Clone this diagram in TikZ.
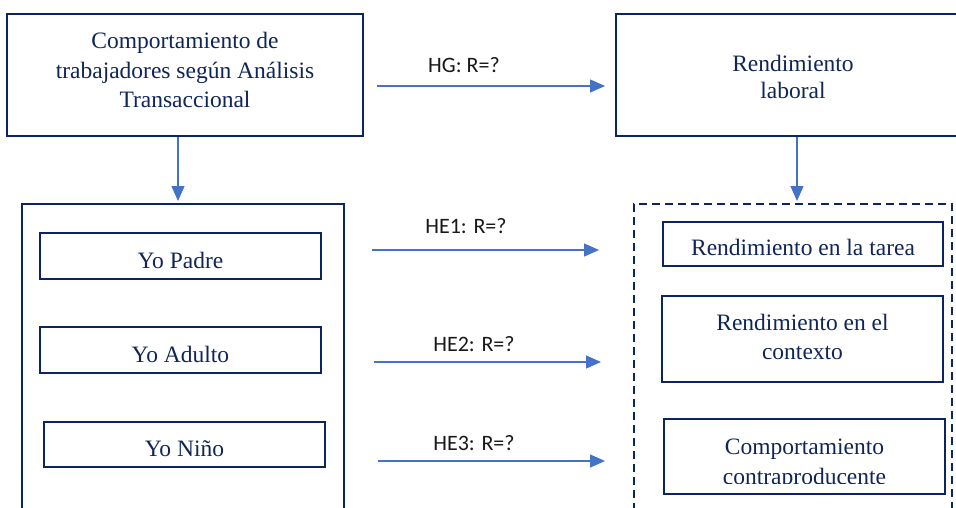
\documentclass[tikz,border=0pt]{standalone}
\usepackage{fontspec}
\setmainfont{Liberation Serif}
\newfontfamily\lblfont{Carlito}
\usetikzlibrary{arrows.meta}
\definecolor{navy}{HTML}{0B2462}
\definecolor{txtnavy}{HTML}{102658}
\definecolor{arrblue}{HTML}{4472C4}
\tikzset{
  box/.style={draw=navy, line width=2.8pt, fill=none, inner sep=0pt},
  outerbox/.style={draw=navy, line width=2pt, inner sep=0pt},
  dashbox/.style={draw=navy, line width=2pt, dash pattern=on 8pt off 5pt, inner sep=0pt},
  txt/.style={inner sep=0pt, align=center, text=txtnavy, font=\fontsize{23.5}{29.5}\selectfont},
  arr/.style={draw=arrblue, line width=1.3pt, -{Triangle[length=15pt,width=13pt]}},
  lbl/.style={inner sep=0pt, font=\lblfont\fontsize{22}{24}\selectfont, text=black!90}
}
\begin{document}
\begin{tikzpicture}[x=1pt,y=-1pt]
\clip (0,0) rectangle (956,507);
\fill[white] (0,0) rectangle (956,507);

% top boxes
\node[box, minimum width=356pt, minimum height=122pt] (A) at (185,75) {};
\node[txt] (At) at (185,70) {Comportamiento de\\trabajadores según Análisis\\Transaccional};
\node[box, minimum width=354pt, minimum height=122pt] (B) at (793,75) {};
\node[txt, font=\fontsize{23.5}{26.5}\selectfont] (Bt) at (793,77) {Rendimiento\\laboral};

% lower containers
\node[outerbox, minimum width=322pt, minimum height=326pt] (L) at (183,367) {};
\node[dashbox, minimum width=318pt, minimum height=326pt] (R) at (793,367) {};

% left inner boxes
\node[box, minimum width=281pt, minimum height=46pt] (P) at (180.5,256) {};
\node[txt] (Pt) at (180.5,260) {Yo Padre};
\node[box, minimum width=281pt, minimum height=46pt] (Ad) at (180.5,350) {};
\node[txt] (Adt) at (180.5,354) {Yo Adulto};
\node[box, minimum width=281pt, minimum height=45pt] (N) at (184.5,444.5) {};
\node[txt] (Nt) at (184.5,448.5) {Yo Niño};

% right inner boxes
\node[box, minimum width=280pt, minimum height=44pt] (T) at (803,244) {};
\node[txt] (Tt) at (803,247) {Rendimiento en la tarea};
\node[box, minimum width=281pt, minimum height=86pt] (C) at (802.5,339) {};
\node[txt] (Ct) at (802.5,337) {Rendimiento en el\\contexto};
\node[box, minimum width=281pt, minimum height=75pt] (CC) at (804.5,456.5) {};
\begin{scope}
  \clip (664,419) rectangle (945,483);
  \node[txt, font=\fontsize{23.5}{30}\selectfont] (CCt) at (804.5,464) {Comportamiento\\contraproducente};
\end{scope}

% vertical arrows
\coordinate (aTip) at (178,201);
\coordinate (bTip) at (797,201);
\draw[arr] (aTip |- A.south) -- (aTip);
\draw[arr] (bTip |- B.south) -- (bTip);

% horizontal arrows
\coordinate (hg1) at (377,86);   \coordinate (hg2) at (605,86);
\coordinate (h11) at (372,250);  \coordinate (h12) at (599,250);
\coordinate (h21) at (374,362);  \coordinate (h22) at (601,362);
\coordinate (h31) at (378,461);  \coordinate (h32) at (605,461);
\draw[arr] (hg1) -- (hg2);
\draw[arr] (h11) -- (h12);
\draw[arr] (h21) -- (h22);
\draw[arr] (h31) -- (h32);
\node[lbl] (lg) at (464,65) {HG: R=?};
\node[lbl] (l1) at (466,226) {HE1: R=?};
\node[lbl] (l2) at (474,344) {HE2: R=?};
\node[lbl] (l3) at (474,443) {HE3: R=?};
\end{tikzpicture}
\end{document}
